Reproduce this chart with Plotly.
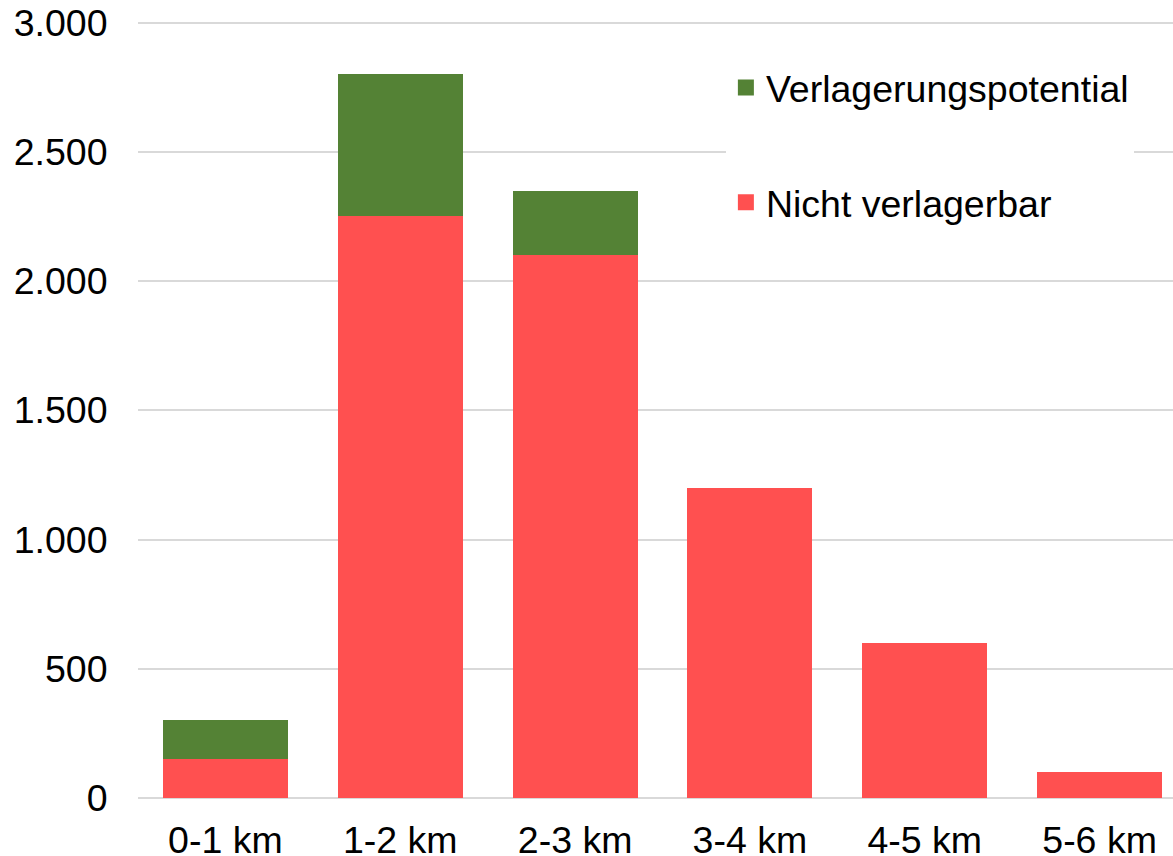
import plotly.graph_objects as go

categories = ["0-1 km", "1-2 km", "2-3 km", "3-4 km", "4-5 km", "5-6 km"]
nicht_verlagerbar = [150, 2250, 2100, 1200, 600, 100]
verlagerungspotential = [150, 550, 250, 0, 0, 0]
y_ticks = [0, 500, 1000, 1500, 2000, 2500, 3000]

RED = "#FF5050"
GREEN = "#548235"
FONT = "Liberation Sans, Arial, sans-serif"
FS = 37.5

fig = go.Figure()
fig.add_trace(go.Bar(x=categories, y=nicht_verlagerbar, name="Nicht verlagerbar",
                     marker=dict(color=RED, line=dict(width=0)), showlegend=False))
fig.add_trace(go.Bar(x=categories, y=verlagerungspotential, name="Verlagerungspotential",
                     marker=dict(color=GREEN, line=dict(width=0)), showlegend=False))
# legend entries
fig.add_trace(go.Scatter(x=[None], y=[None], mode="markers", name="Verlagerungspotential",
                         legendgroup="a", marker=dict(symbol="square", size=20, color=GREEN)))
fig.add_trace(go.Scatter(x=[None], y=[None], mode="markers", name="Nicht verlagerbar",
                         legendgroup="b", marker=dict(symbol="square", size=20, color=RED)))

fig.update_layout(
    width=1173, height=856,
    margin=dict(l=138, r=0, t=20, b=58),
    barmode="stack", bargap=0.285,
    plot_bgcolor="white", paper_bgcolor="white",
    separators=",.",
    font=dict(family=FONT, size=FS, color="black"),
    legend=dict(x=0.568, xanchor="left", y=0.953, yanchor="top",
                bgcolor="white", borderwidth=0, traceorder="grouped",
                tracegroupgap=63, itemwidth=30,
                font=dict(family=FONT, size=FS, color="black")),
    xaxis=dict(range=[-0.5, 5.42], showgrid=False, showline=False, zeroline=False,
               automargin=False,
               ticks="outside", ticklen=9, tickcolor="rgba(0,0,0,0)",
               tickfont=dict(size=FS)),
    yaxis=dict(range=[0, 3010], tickvals=y_ticks, tickformat=",d",
               automargin=False,
               showgrid=True, gridcolor="#D9D9D9", gridwidth=2,
               zeroline=True, zerolinecolor="#D9D9D9", zerolinewidth=2,
               showline=False, ticks="outside", ticklen=22,
               tickcolor="rgba(0,0,0,0)", tickfont=dict(size=FS)),
)

fig.write_html("out.html", config={"displayModeBar": False},
               post_script="document.body.style.margin='0';document.body.style.overflow='hidden';")
